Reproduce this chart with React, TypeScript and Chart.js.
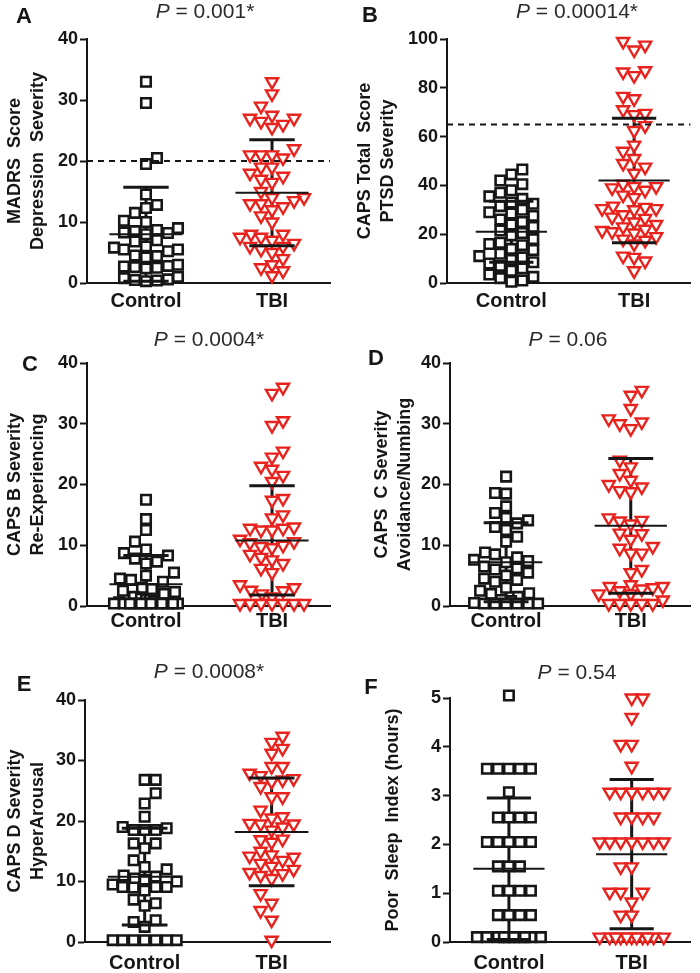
import React, { useEffect, useRef } from 'react';
import { Chart, registerables } from 'chart.js';

Chart.register(...registerables);

// ---------------- DATA ----------------
const categories = ['Control', 'TBI'];
const panelLetters = ['A', 'B', 'C', 'D', 'E', 'F'];
const pValues = ['0.001*', '0.00014*', '0.0004*', '0.06', '0.0008*', '0.54'];
const yTitles = [
  ['MADRS  Score', 'Depression  Severity'],
  ['CAPS Total  Score', 'PTSD Severity'],
  ['CAPS B Severity', 'Re-Experiencing'],
  ['CAPS  C Severity', 'Avoidance/Numbing'],
  ['CAPS D Severity', 'HyperArousal'],
  ['Poor  Sleep  Index (hours)'],
];
const yMaxValues = [40, 100, 40, 40, 40, 5];
const yStepValues = [10, 20, 10, 10, 10, 1];
const cutoffValues = [20, 65, null, null, null, null];

const controlA = [33, 29.5, 20.5, 19.5, 14.5, 12.8, 12.3, 11.5, 10.2, 10, 9, 8.7, 8.5, 8.3, 8.2, 8, 7, 6.8, 6, 5.8, 5.5, 5.5, 5.2, 4.5, 4.4, 4.2, 3, 2.8, 2.7, 2.6, 2.5, 2.4, 1, 0.8, 0.6, 0.5, 0.4, 0.3];
const tbiA = [33, 31, 29, 27.5, 27, 27, 26.5, 26, 25.5, 22, 21, 21, 21, 20.5, 19, 19, 18, 17.5, 17, 16.5, 15, 14, 14, 13.5, 13, 13, 12.5, 12, 11, 10, 8, 8, 7.5, 7.5, 7, 6.5, 6, 6, 5.5, 5, 4, 3, 2.5, 2, 1.2];

const controlB = [46.5, 44.5, 42, 40.5, 38, 37, 35.5, 34.5, 33, 32.5, 31.5, 30, 29, 28.5, 27.5, 26, 25, 24, 23, 21.5, 20.5, 19.5, 18, 16.5, 16, 15.5, 14, 13.5, 12, 11, 10.5, 9.5, 8.5, 8, 7, 6, 5, 3.5, 2.5, 2, 1, 0.5];
const tbiB = [99, 97.5, 95.5, 87, 86.5, 85, 76.5, 75.5, 71, 69.5, 69, 64.5, 62.5, 56.5, 54, 51, 49, 47.5, 45, 40.5, 39.5, 39.5, 39, 38, 36, 35, 31.5, 31, 30.5, 30.5, 30, 28, 27, 26.5, 25, 24, 23, 22, 21.5, 21, 20.5, 19, 18, 17.5, 16, 11, 10.5, 9, 5];

const controlC = [17.5, 14.3, 12.5, 10.6, 9.3, 8.7, 8.3, 7.8, 7.3, 7, 5.5, 5, 4.5, 4.3, 4, 3, 2.8, 2.5, 2.3, 2, 1.5, 1.2, 1, 1, 0.8, 0.6, 0.4, 0.4, 0.4, 0.4, 0.4, 0.4, 0.4, 0.4, 0.4, 0.4, 0.4, 0.4];
const tbiC = [36, 35, 30.5, 29.7, 25.5, 24.5, 23, 22.5, 21.5, 20.5, 17.7, 17.4, 15, 14.5, 13, 12.8, 12.8, 12.5, 12.5, 11, 10.6, 10.4, 10, 9.8, 9.6, 8.5, 8, 7.6, 7, 6.2, 5.5, 3.5, 3, 2.6, 2.5, 2, 1.5, 0.4, 0.4, 0.4, 0.4, 0.4, 0.4, 0.4];

const controlD = [21.3, 18.6, 18.5, 16.4, 15.3, 14.5, 14.1, 13.6, 13, 12.5, 11.4, 10.6, 8.8, 8.5, 8, 7.6, 7.4, 7.2, 6.5, 6.2, 6, 5.5, 5, 4.5, 4.3, 4, 3, 2.5, 2.1, 2, 1.5, 1, 0.8, 0.5, 0.4, 0.4, 0.4, 0.4, 0.4, 0.4];
const tbiD = [35.5, 34.7, 32.5, 30.8, 30.3, 30, 29.2, 24, 22.9, 21.8, 20.7, 20, 19.6, 19, 18.8, 14.5, 14.1, 14, 13.5, 12, 11.9, 11, 9.8, 9.5, 8.7, 8.7, 6, 5.5, 3.5, 3.2, 3.2, 3, 2.8, 2.5, 2, 2, 1, 0.4, 0.4, 0.4, 0.4, 0.4];

const controlE = [26.8, 26.8, 24.6, 22.9, 20.7, 19, 18.8, 18.5, 18.5, 18.5, 16.3, 16.3, 15.5, 13.5, 12.4, 12, 11, 10.8, 10.5, 10.3, 10, 9.5, 9.1, 9.1, 9.1, 9, 8.5, 7, 6.4, 6, 3.6, 3.3, 2.5, 0.3, 0.3, 0.3, 0.3, 0.3, 0.3, 0.3];
const tbiE = [34, 33, 32, 31.2, 29, 29, 27.9, 27.5, 26.8, 27, 26.5, 25.7, 24, 24, 21.8, 20.7, 20.5, 19.6, 19.5, 19.5, 19, 18.5, 17, 16.9, 16.5, 15, 14.4, 14.2, 14, 13.5, 13, 12.5, 12, 11.5, 11.3, 11, 10.5, 8, 6.4, 5.2, 3.6, 0.3];

const controlF = [5.05, 3.55, 3.55, 3.55, 3.55, 3.55, 3.07, 2.55, 2.55, 2.55, 2.55, 2.05, 2.05, 2.05, 2.05, 2.05, 1.55, 1.55, 1.55, 1.05, 1.05, 1.05, 1.05, 0.55, 0.55, 0.55, 0.55, 0.1, 0.1, 0.1, 0.1, 0.1, 0.1, 0.1, 0.1, 0.1, 0.1];
const tbiF = [5.0, 5.0, 4.6, 4.05, 4.05, 3.6, 3.07, 3.07, 3.07, 3.07, 3.07, 3.07, 2.56, 2.56, 2.56, 2.56, 2.05, 2.05, 2.05, 2.05, 2.05, 2.05, 2.05, 1.54, 1.54, 1.02, 1.02, 1.02, 0.82, 0.55, 0.55, 0.1, 0.1, 0.1, 0.1, 0.1, 0.1, 0.1, 0.1, 0.1, 0.1, 0.1];

const controlSeries = [controlA, controlB, controlC, controlD, controlE, controlF];
const tbiSeries = [tbiA, tbiB, tbiC, tbiD, tbiE, tbiF];

const controlMeans = [8.0, 21, 3.6, 7.2, 10.8, 1.5];
const controlSDs = [7.7, 12.5, 4.7, 6.5, 8.0, 1.45];
const tbiMeans = [14.8, 42, 10.8, 13.2, 18.2, 1.8];
const tbiSDs = [8.7, 25.5, 9.0, 11.1, 8.9, 1.53];

// ---------------- LAYOUT / STYLE ----------------
const FONT = '"Liberation Sans", Arial, Helvetica, sans-serif';
const INK = '#161616';
const RED = '#e8231d';
const GAP = 10.5;
const MAX_HALF = 32;

const layouts = [
  { left: 0, top: 0, w: 350, h: 310, l: 87, t: 39, r: 330, b: 283, xMin: 0.532, xMax: 2.46, titleX: 205, titleY: 12, letterX: 24, letterY: 17, yTitlePad: 4, xTickPad: 6 },
  { left: 350, top: 0, w: 350, h: 310, l: 97, t: 39, r: 343, b: 283, xMin: 0.476, xMax: 2.46, titleX: 227, titleY: 12, letterX: 20, letterY: 16, yTitlePad: 4, xTickPad: 6 },
  { left: 0, top: 320, w: 350, h: 320, l: 87, t: 43, r: 330, b: 286, xMin: 0.532, xMax: 2.46, titleX: 209, titleY: 20, letterX: 30, letterY: 45, yTitlePad: 4, xTickPad: 3 },
  { left: 350, top: 320, w: 350, h: 320, l: 100, t: 43, r: 345, b: 286, xMin: 0.55, xMax: 2.48, titleX: 218, titleY: 20, letterX: 26, letterY: 39, yTitlePad: 21, xTickPad: 3 },
  { left: 0, top: 640, w: 350, h: 333, l: 85, t: 60, r: 330, b: 302, xMin: 0.53, xMax: 2.46, titleX: 209, titleY: 32, letterX: 24, letterY: 45, yTitlePad: 4, xTickPad: 9 },
  { left: 350, top: 640, w: 350, h: 333, l: 100, t: 58, r: 345, b: 302, xMin: 0.52, xMax: 2.48, titleX: 227, titleY: 33, letterX: 21, letterY: 48, yTitlePad: 32, xTickPad: 9 },
];

const panelTextPlugin = {
  id: 'panelText',
  afterDraw(chart: any, _args: any, opts: any) {
    const ctx = chart.ctx;
    ctx.save();
    ctx.textBaseline = 'middle';
    ctx.fillStyle = INK;
    ctx.font = `bold 22px ${FONT}`;
    ctx.textAlign = 'center';
    ctx.fillText(opts.letter, opts.letterX, opts.letterY);
    ctx.textAlign = 'left';
    ctx.fillStyle = '#2b2b2b';
    ctx.font = `italic 21px ${FONT}`;
    const w1 = ctx.measureText('P').width;
    const rest = ' = ' + opts.pText;
    ctx.font = `21px ${FONT}`;
    const w2 = ctx.measureText(rest).width;
    const x0 = opts.titleX - (w1 + w2) / 2;
    ctx.font = `italic 21px ${FONT}`;
    ctx.fillText('P', x0, opts.titleY);
    ctx.font = `21px ${FONT}`;
    ctx.fillText(rest, x0 + w1, opts.titleY);
    ctx.restore();
  },
};

function swarmOffsets(yPix: number[], gap: number, maxHalf: number): number[] {
  const idx = yPix.map((_, i) => i).sort((a, b) => yPix[b] - yPix[a] || a - b);
  const placed: { x: number; y: number }[] = [];
  const out = new Array(yPix.length).fill(0);
  const negFirst: number[] = [0];
  const posFirst: number[] = [0];
  for (let k = 1; k <= maxHalf; k++) {
    negFirst.push(-k, k);
    posFirst.push(k, -k);
  }
  idx.forEach((i, n) => {
    const y = yPix[i];
    const cands = n % 2 ? posFirst : negFirst;
    let bestX = 0;
    let bestScore = -1;
    for (const c of cands) {
      let minD = Infinity;
      for (const p of placed) {
        const dy = Math.abs(p.y - y);
        if (dy >= gap) continue;
        const d = Math.max(Math.abs(p.x - c), dy);
        if (d < minD) minD = d;
      }
      if (minD >= gap) {
        bestX = c;
        break;
      }
      if (minD > bestScore) {
        bestScore = minD;
        bestX = c;
      }
    }
    placed.push({ x: bestX, y });
    out[i] = bestX;
  });
  return out;
}

function seg(x1: number, y1: number, x2: number, y2: number, width: number, order: number, dash: number[] = []) {
  return {
    type: 'line',
    data: [{ x: x1, y: y1 }, { x: x2, y: y2 }],
    borderColor: INK,
    borderWidth: width,
    borderDash: dash,
    borderCapStyle: 'butt',
    pointRadius: 0,
    showLine: true,
    fill: false,
    order,
  };
}

function buildConfig(i: number) {
  const L = layouts[i];
  const cMean = controlMeans[i], cSD = controlSDs[i];
  const tMean = tbiMeans[i], tSD = tbiSDs[i];
  const datasets: any[] = [];
  datasets.push(seg(1, cMean - cSD, 1, cMean + cSD, 3, 3));
  datasets.push(seg(2, tMean - tSD, 2, tMean + tSD, 3, 3));
  datasets.push({
    type: 'scatter',
    data: controlSeries[i].map((v) => ({ x: 1, y: v })),
    pointStyle: 'rect',
    pointRadius: 6.7,
    pointBorderWidth: 2.6,
    pointBorderColor: INK,
    pointBackgroundColor: '#ffffff',
    borderColor: INK,
    backgroundColor: '#ffffff',
    order: 2,
    clip: false,
  });
  datasets.push({
    type: 'scatter',
    data: tbiSeries[i].map((v) => ({ x: 2, y: v })),
    pointStyle: 'triangle',
    pointRotation: 180,
    pointRadius: 7,
    pointBorderWidth: 2.4,
    pointBorderColor: RED,
    pointBackgroundColor: '#ffffff',
    borderColor: RED,
    backgroundColor: '#ffffff',
    order: 2,
    clip: false,
  });
  datasets.push(seg(1 - 0.29, cMean, 1 + 0.29, cMean, 2, 1));
  datasets.push(seg(2 - 0.29, tMean, 2 + 0.29, tMean, 2, 1));
  datasets.push(seg(1 - 0.18, cMean + cSD, 1 + 0.18, cMean + cSD, 3, 1));
  datasets.push(seg(1 - 0.18, cMean - cSD, 1 + 0.18, cMean - cSD, 3, 1));
  datasets.push(seg(2 - 0.18, tMean + tSD, 2 + 0.18, tMean + tSD, 3, 1));
  datasets.push(seg(2 - 0.18, tMean - tSD, 2 + 0.18, tMean - tSD, 3, 1));
  const cut = cutoffValues[i];
  if (cut !== null) datasets.push(seg(L.xMin, cut, L.xMax, cut, 2, 0, [6, 5]));

  return {
    type: 'scatter',
    data: { datasets },
    options: {
      responsive: false,
      animation: false,
      events: [],
      layout: { padding: { left: 0, top: L.t, right: L.w - L.r, bottom: 0 } },
      plugins: {
        legend: { display: false },
        tooltip: { enabled: false },
        panelText: {
          letter: panelLetters[i], pText: pValues[i],
          letterX: L.letterX, letterY: L.letterY, titleX: L.titleX, titleY: L.titleY,
        },
      },
      scales: {
        x: {
          type: 'linear',
          min: L.xMin,
          max: L.xMax,
          afterFit: (s: any) => { s.height = L.h - L.b; },
          afterBuildTicks: (s: any) => { s.ticks = [{ value: 1 }, { value: 2 }]; },
          ticks: {
            callback: (v: any) => categories[Math.round(v) - 1],
            font: { family: FONT, size: 20, weight: 'bold' },
            color: INK,
            padding: L.xTickPad,
            autoSkip: false,
            maxRotation: 0,
          },
          grid: { display: false, drawTicks: false, tickLength: 0 },
          border: { display: true, width: 2, color: INK },
        },
        y: {
          min: 0,
          max: yMaxValues[i],
          afterFit: (s: any) => { s.width = L.l; },
          ticks: {
            stepSize: yStepValues[i],
            font: { family: FONT, size: 18, weight: 'bold' },
            color: INK,
            padding: 2,
          },
          grid: { display: true, drawOnChartArea: false, drawTicks: true, tickLength: 7, tickWidth: 2, tickColor: INK },
          border: { display: true, width: 2, color: INK },
          title: {
            display: true,
            text: yTitles[i],
            font: { family: FONT, size: 18, weight: 'bold', lineHeight: 1.25 },
            color: INK,
            padding: { top: L.yTitlePad, bottom: 0 },
          },
        },
      },
    },
    plugins: [panelTextPlugin],
  };
}

function Panel({ index }: { index: number }) {
  const ref = useRef<HTMLCanvasElement | null>(null);
  const L = layouts[index];
  useEffect(() => {
    if (!ref.current) return;
    const chart = new Chart(ref.current, buildConfig(index) as any);
    const xs: any = chart.scales.x;
    const ys: any = chart.scales.y;
    const unit = xs.getPixelForValue(2) - xs.getPixelForValue(1);
    const groups = [
      { ds: 2, cat: 1, values: controlSeries[index] },
      { ds: 3, cat: 2, values: tbiSeries[index] },
    ];
    groups.forEach((g) => {
      const pix = g.values.map((v) => ys.getPixelForValue(v));
      const offs = swarmOffsets(pix, GAP, MAX_HALF);
      (chart.data.datasets[g.ds] as any).data = g.values.map((v, k) => ({ x: g.cat + offs[k] / unit, y: v }));
    });
    chart.update('none');
    return () => chart.destroy();
  }, [index]);
  return (
    <div style={{ position: 'absolute', left: L.left, top: L.top, width: L.w, height: L.h }}>
      <canvas ref={ref} width={L.w} height={L.h} style={{ width: L.w, height: L.h, display: 'block' }} />
    </div>
  );
}

export default function App() {
  return (
    <div style={{ position: 'absolute', left: 0, top: 0, width: 700, height: 973, background: '#ffffff', overflow: 'hidden' }}>
      {layouts.map((_, i) => (
        <Panel key={i} index={i} />
      ))}
    </div>
  );
}
